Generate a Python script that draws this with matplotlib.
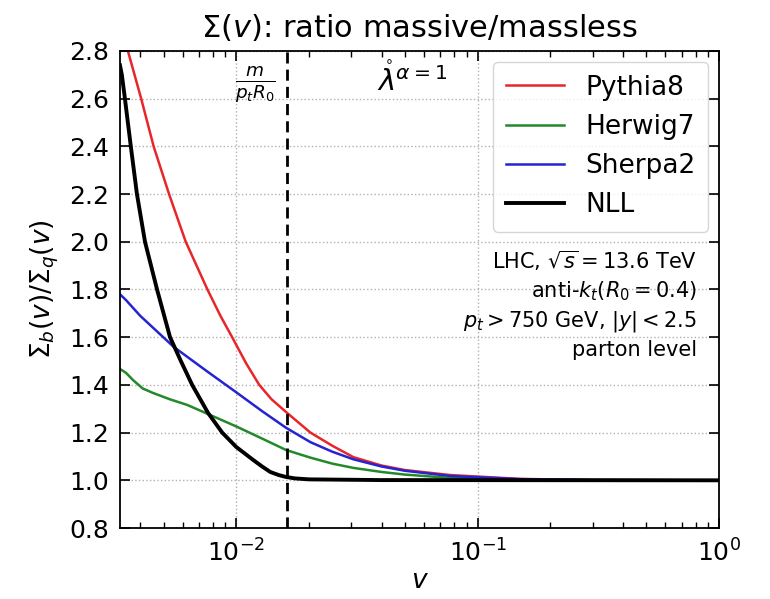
import numpy as np
import matplotlib
matplotlib.use("Agg")
import matplotlib.pyplot as plt

# values
v_pythia = [0.0033, 0.00356, 0.00404, 0.00455, 0.00527, 0.00618, 0.0076, 0.0086,
            0.00962, 0.011, 0.01246, 0.014, 0.0161, 0.0203, 0.025, 0.0306, 0.04,
            0.05, 0.0773, 0.15, 0.3, 1.0]
s_pythia = [2.92, 2.80, 2.60, 2.40, 2.20, 2.00, 1.80, 1.69,
            1.60, 1.49, 1.40, 1.34, 1.286, 1.20, 1.145, 1.097, 1.062,
            1.043, 1.022, 1.006, 1.001, 1.0]

v_herwig = [0.0033, 0.0035, 0.00374, 0.0041, 0.00453, 0.0053, 0.00627, 0.0078,
            0.0101, 0.0128, 0.0161, 0.0203, 0.025, 0.0306, 0.04, 0.05, 0.0773,
            0.15, 0.3, 1.0]
s_herwig = [1.467, 1.45, 1.42, 1.385, 1.366, 1.34, 1.316, 1.274,
            1.224, 1.175, 1.127, 1.095, 1.07, 1.052, 1.035, 1.024, 1.010,
            1.003, 1.001, 1.0]

v_sherpa = [0.0033, 0.0035, 0.0040, 0.0055, 0.0075, 0.0101, 0.0128, 0.0161,
            0.0203, 0.025, 0.0306, 0.04, 0.05, 0.0773, 0.15, 0.3, 1.0]
s_sherpa = [1.78, 1.755, 1.69, 1.56, 1.46, 1.366, 1.29, 1.22,
            1.16, 1.12, 1.088, 1.058, 1.04, 1.018, 1.005, 1.001, 1.0]

v_nll = [0.0033, 0.00336, 0.00346, 0.00366, 0.00388, 0.00419, 0.0047, 0.00532,
         0.0059, 0.00657, 0.00765, 0.00875, 0.01, 0.01177, 0.0128, 0.01384, 0.015,
         0.0161, 0.0175, 0.02, 0.04, 1.0]
s_nll = [2.74, 2.70, 2.60, 2.40, 2.20, 2.00, 1.80, 1.60,
         1.50, 1.40, 1.282, 1.20, 1.14, 1.085, 1.058, 1.035, 1.022,
         1.014, 1.008, 1.004, 1.001, 1.0]

v_mass = 0.0163  # m/(p_t R_0)

fig = plt.figure(figsize=(7.7, 5.99), dpi=100)
ax = fig.add_axes([0.1558, 0.1185, 0.778, 0.7964])

ax.plot(v_pythia, s_pythia, color="#e8262a", lw=1.8, label="Pythia8")
ax.plot(v_herwig, s_herwig, color="#23892a", lw=1.8, label="Herwig7")
ax.plot(v_sherpa, s_sherpa, color="#2424d0", lw=1.8, label="Sherpa2")
ax.plot(v_nll, s_nll, color="black", lw=2.8, label="NLL")

ax.axvline(v_mass, color="black", ls="--", lw=2.0, dashes=(4, 2.2))

ax.set_xscale("log")
ax.set_xlim(0.0033, 1.0)
ax.set_ylim(0.8, 2.8)
ax.set_yticks(np.arange(0.8, 2.81, 0.2))

ax.grid(True, which="major", ls=":", color="#b0b0b0", lw=1.0)
ax.tick_params(direction="in", which="both", top=True, right=True, labelsize=18)
ax.tick_params(which="major", length=7, width=1.2, pad=8)
ax.tick_params(which="minor", length=4, width=1.0)
for sp in ax.spines.values():
    sp.set_linewidth(1.3)

ax.set_title(r"$\Sigma(v)$: ratio massive/massless", fontsize=22, pad=10)
ax.set_xlabel(r"$v$", fontsize=19, labelpad=1)
ax.set_ylabel(r"$\Sigma_b(v)/\Sigma_q(v)$", fontsize=19, labelpad=6)

ax.text(0.0120, 2.66, r"$\frac{m}{p_t R_0}$", fontsize=19, ha="center", va="center")
ax.text(0.0382, 2.68, r"$\mathring{\lambda}^{\alpha=1}$", fontsize=21, ha="left", va="center")

leg = ax.legend(loc="upper right", fontsize=19, framealpha=0.8, edgecolor="#cccccc",
                handlelength=2.2, borderpad=0.5, labelspacing=0.5,
                borderaxespad=0.4)

ax.text(0.963, 0.585, "LHC, $\\sqrt{s} = 13.6$ TeV\nanti-$k_t(R_0 = 0.4)$\n"
        "$p_t > 750$ GeV, $|y| < 2.5$\nparton level",
        transform=ax.transAxes, ha="right", va="top", fontsize=15, linespacing=1.35,
        multialignment="right")

fig.savefig("out.png", dpi=100)
